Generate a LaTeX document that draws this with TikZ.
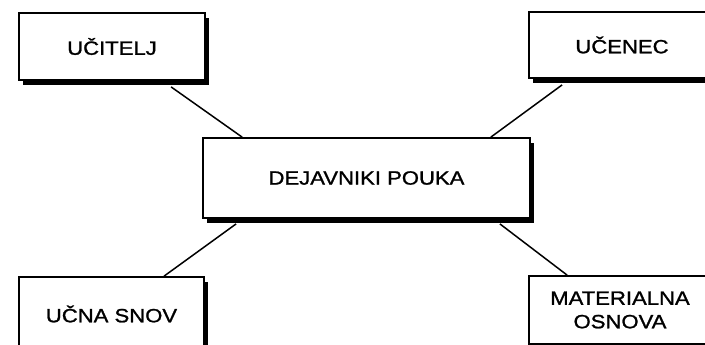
\documentclass[tikz,border=0pt]{standalone}
\usepackage{fontspec}
\setmainfont{Liberation Sans}
\newfontfamily\boxfont[FakeStretch=1.15,FakeBold=1.2]{Liberation Sans}
\usetikzlibrary{calc,shadows}
\begin{document}
\begin{tikzpicture}[x=1pt,y=-1pt,
  box/.style={draw, line width=1.8pt, fill=white, rectangle, inner sep=0pt,
    align=center, font=\boxfont\fontsize{19.2}{23.5}\selectfont,
    drop shadow={shadow xshift=4pt, shadow yshift=-5pt, fill=black, opacity=1}},
  link/.style={line width=1.5pt}]
\useasboundingbox (0,0) rectangle (705,345);
\clip (0,0) rectangle (705,345);

% factor boxes
\node[box, minimum width=186pt, minimum height=67pt] (uc) at (112,46.5) {UČITELJ};
\node[box, minimum width=186pt, minimum height=66pt] (ue) at (622,45) {UČENEC};
\node[box, minimum width=327pt, minimum height=80pt] (dp) at (366.5,178) {DEJAVNIKI POUKA};
\node[box, minimum width=185pt, minimum height=74pt] (us) at (111.5,314) {UČNA SNOV};
\node[box, minimum width=182pt, minimum height=68pt] (mo) at (620,310) {MATERIALNA\\OSNOVA};

% connectors to the central box
\draw[link] ($(uc.south west)+(153,6)$) -- ($(dp.north west)+(40,0)$);
\draw[link] ($(ue.south west)+(34,6)$) -- ($(dp.north east)+(-40,0)$);
\draw[link] ($(dp.south west)+(34,5)$) -- ($(us.north west)+(146,0)$);
\draw[link] ($(dp.south east)+(-31,5)$) -- ($(mo.north west)+(39,0)$);
\end{tikzpicture}
\end{document}
